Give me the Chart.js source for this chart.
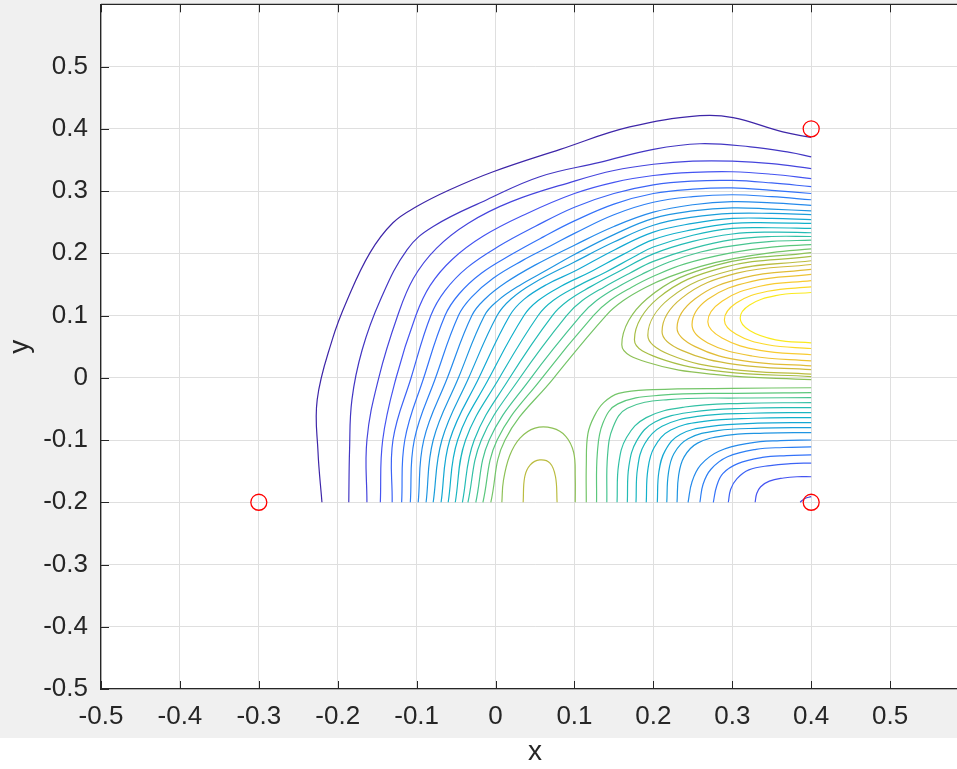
<!DOCTYPE html>
<html>
<head>
<meta charset="utf-8">
<script src="https://cdn.jsdelivr.net/npm/chart.js@4.4.0/dist/chart.umd.min.js"></script>
<style>
html, body { margin: 0; padding: 0; overflow: hidden; background: #ffffff; }
#contenedor { width: 990px; height: 769px; overflow: hidden; }
#chart1 { display: block; margin-top: -5px; }
</style>
</head>
<body>
<div id="contenedor"><canvas id="chart1" width="990" height="774"></canvas></div>
<script>
// Ticks de los ejes
var xTicks = [-0.5, -0.4, -0.3, -0.2, -0.1, 0, 0.1, 0.2, 0.3, 0.4, 0.5];
var xTickLabels = ["-0.5", "-0.4", "-0.3", "-0.2", "-0.1", "0", "0.1", "0.2", "0.3", "0.4", "0.5"];
var yTicks = [-0.5, -0.4, -0.3, -0.2, -0.1, 0, 0.1, 0.2, 0.3, 0.4, 0.5];
var yTickLabels = ["-0.5", "-0.4", "-0.3", "-0.2", "-0.1", "0", "0.1", "0.2", "0.3", "0.4", "0.5"];

// Puntos marcados (circulos rojos)
var puntosX = [-0.3, 0.4, 0.4];
var puntosY = [-0.2, 0.4, -0.2];

// Curvas de nivel que van del borde inferior al borde derecho (parte superior)
var lineasSuperiores = [
    [[-0.220,-0.2],[-0.225,-0.119],[-0.226,-0.035],[-0.207,0.061],[-0.188,0.125],[-0.159,0.201],[-0.130,0.249],[-0.100,0.275],[-0.058,0.302],[-0.003,0.331],[0.082,0.367],[0.170,0.403],[0.259,0.421],[0.301,0.418],[0.364,0.395],[0.400,0.386]],
    [[-0.186,-0.2],[-0.185,-0.116],[-0.182,-0.035],[-0.169,0.045],[-0.146,0.125],[-0.112,0.206],[-0.079,0.243],[-0.011,0.286],[0.056,0.323],[0.132,0.346],[0.200,0.367],[0.259,0.376],[0.323,0.371],[0.373,0.362],[0.400,0.355]],
    [[-0.163,-0.2],[-0.163,-0.1],[-0.148,0],[-0.124,0.1],[-0.104,0.16],[-0.075,0.208],[-0.035,0.248],[0.02,0.283],[0.1,0.316],[0.15,0.333],[0.2,0.343],[0.25,0.348],[0.3,0.348],[0.35,0.344],[0.4,0.336]],
    [[-0.146,-0.2],[-0.143,-0.1],[-0.126,0],[-0.101,0.1],[-0.083,0.148],[-0.055,0.190],[-0.015,0.228],[0.04,0.264],[0.1,0.296],[0.15,0.314],[0.2,0.325],[0.25,0.330],[0.3,0.331],[0.35,0.327],[0.4,0.320]],
    [[-0.131,-0.2],[-0.130,-0.1],[-0.107,0],[-0.082,0.1],[-0.064,0.14],[-0.036,0.177],[0.005,0.212],[0.05,0.243],[0.1,0.274],[0.15,0.296],[0.2,0.310],[0.25,0.316],[0.3,0.317],[0.35,0.313],[0.4,0.307]],
    [[-0.119,-0.2],[-0.115,-0.1],[-0.091,0],[-0.064,0.1],[-0.046,0.135],[-0.018,0.168],[0.02,0.198],[0.06,0.226],[0.1,0.252],[0.15,0.279],[0.2,0.296],[0.25,0.303],[0.3,0.305],[0.35,0.301],[0.4,0.296]],
    [[-0.108,-0.2],[-0.103,-0.1],[-0.076,0],[-0.047,0.1],[-0.030,0.13],[-0.003,0.16],[0.035,0.189],[0.07,0.212],[0.1,0.232],[0.15,0.262],[0.2,0.282],[0.25,0.291],[0.3,0.294],[0.35,0.291],[0.4,0.286]],
    [[-0.098,-0.2],[-0.091,-0.1],[-0.061,0],[-0.030,0.1],[-0.013,0.127],[0.013,0.153],[0.05,0.181],[0.1,0.213],[0.15,0.243],[0.2,0.266],[0.25,0.278],[0.3,0.283],[0.35,0.281],[0.4,0.277]],
    [[-0.088,-0.2],[-0.079,-0.1],[-0.047,0],[-0.014,0.1],[0.003,0.124],[0.03,0.148],[0.065,0.173],[0.1,0.198],[0.15,0.230],[0.2,0.256],[0.25,0.268],[0.3,0.273],[0.35,0.271],[0.4,0.268]],
    [[-0.079,-0.2],[-0.068,-0.1],[-0.034,0],[0.002,0.1],[0.02,0.127],[0.048,0.152],[0.1,0.186],[0.15,0.218],[0.2,0.245],[0.25,0.258],[0.3,0.264],[0.35,0.264],[0.4,0.262]],
    [[-0.069,-0.2],[-0.058,-0.1],[-0.021,0],[0.018,0.1],[0.036,0.126],[0.065,0.150],[0.1,0.171],[0.15,0.205],[0.2,0.234],[0.25,0.248],[0.3,0.256],[0.35,0.256],[0.4,0.254]],
    [[-0.060,-0.2],[-0.048,-0.1],[-0.008,0],[0.036,0.1],[0.054,0.124],[0.083,0.147],[0.12,0.170],[0.16,0.197],[0.2,0.222],[0.25,0.238],[0.3,0.248],[0.35,0.249],[0.4,0.248]],
    [[-0.051,-0.2],[-0.038,-0.1],[0.005,0],[0.054,0.1],[0.073,0.124],[0.102,0.146],[0.14,0.170],[0.175,0.194],[0.2,0.210],[0.25,0.229],[0.3,0.240],[0.35,0.241],[0.4,0.240]],
    [[-0.042,-0.2],[-0.027,-0.1],[0.018,0],[0.072,0.1],[0.092,0.124],[0.12,0.146],[0.155,0.170],[0.2,0.199],[0.25,0.219],[0.3,0.231],[0.35,0.234],[0.4,0.233]],
    [[-0.035,-0.2],[-0.018,-0.1],[0.031,0],[0.090,0.1],[0.110,0.124],[0.138,0.146],[0.17,0.168],[0.2,0.187],[0.25,0.208],[0.3,0.222],[0.35,0.227],[0.4,0.227]],
    [[-0.025,-0.2],[-0.008,-0.1],[0.045,0],[0.108,0.1],[0.128,0.124],[0.155,0.146],[0.185,0.166],[0.22,0.186],[0.26,0.202],[0.3,0.212],[0.35,0.219],[0.4,0.221]],
    [[-0.016,-0.2],[0.002,-0.1],[0.059,0],[0.124,0.1],[0.145,0.124],[0.172,0.145],[0.2,0.163],[0.24,0.183],[0.3,0.201],[0.35,0.210],[0.4,0.214]],
    [[-0.006,-0.2],[0.012,-0.1],[0.074,0],[0.140,0.1],[0.162,0.124],[0.19,0.145],[0.22,0.162],[0.26,0.179],[0.3,0.191],[0.35,0.201],[0.4,0.207]]
];
var nivelesSuperiores = [1, 2, 3, 4, 5, 6, 7, 8, 9, 10, 11, 12, 13, 14, 15, 16, 17, 18];

// Curvas en forma de C alrededor del maximo (amarillo)
var lineasC = [
    [[0.4,0.201],[0.280,0.181],[0.192,0.127],[0.160,0.053],[0.192,0.025],[0.280,0.005],[0.4,-0.003]],
    [[0.4,0.195],[0.288,0.177],[0.206,0.128],[0.176,0.061],[0.206,0.032],[0.288,0.010],[0.4,0.002]],
    [[0.4,0.188],[0.297,0.172],[0.221,0.128],[0.193,0.068],[0.221,0.037],[0.297,0.014],[0.4,0.006]],
    [[0.4,0.182],[0.306,0.168],[0.236,0.128],[0.211,0.074],[0.236,0.044],[0.306,0.021],[0.4,0.013]],
    [[0.4,0.174],[0.315,0.161],[0.253,0.127],[0.230,0.080],[0.253,0.050],[0.315,0.027],[0.4,0.019]],
    [[0.4,0.166],[0.325,0.155],[0.269,0.126],[0.249,0.085],[0.269,0.056],[0.325,0.035],[0.4,0.027]],
    [[0.4,0.156],[0.335,0.147],[0.287,0.123],[0.269,0.090],[0.287,0.064],[0.335,0.044],[0.4,0.037]],
    [[0.4,0.146],[0.345,0.139],[0.305,0.120],[0.290,0.093],[0.305,0.070],[0.345,0.053],[0.4,0.047]],
    [[0.4,0.137],[0.355,0.132],[0.322,0.117],[0.310,0.096],[0.322,0.076],[0.355,0.061],[0.4,0.056]]
];
var nivelesC = [19, 20, 21, 22, 23, 24, 25, 26, 27];

// Lazos alrededor del maximo local de abajo
var lazos = [
    [[0.008,-0.2],[0.010,-0.165],[0.018,-0.125],[0.031,-0.097],[0.050,-0.081],[0.072,-0.081],[0.089,-0.094],[0.099,-0.12],[0.101,-0.16],[0.101,-0.2]],
    [[0.035,-0.2],[0.037,-0.159],[0.044,-0.140],[0.056,-0.132],[0.069,-0.137],[0.076,-0.159],[0.078,-0.2]]
];
var nivelesLazos = [19, 21];

// Curvas de la esquina inferior derecha
var lineasInferiores = [
    [[0.115,-0.2],[0.115,-0.14],[0.117,-0.09],[0.125,-0.062],[0.137,-0.040],[0.156,-0.025],[0.2,-0.019],[0.3,-0.017],[0.4,-0.016]],
    [[0.128,-0.2],[0.129,-0.121],[0.136,-0.073],[0.155,-0.042],[0.210,-0.028],[0.305,-0.025],[0.4,-0.024]],
    [[0.141,-0.2],[0.142,-0.124],[0.149,-0.079],[0.167,-0.049],[0.219,-0.035],[0.309,-0.0325],[0.4,-0.032]],
    [[0.154,-0.2],[0.156,-0.139],[0.166,-0.096],[0.191,-0.064],[0.240,-0.047],[0.314,-0.041],[0.4,-0.040]],
    [[0.167,-0.2],[0.169,-0.142],[0.179,-0.101],[0.202,-0.071],[0.249,-0.055],[0.318,-0.049],[0.4,-0.048]],
    [[0.178,-0.2],[0.180,-0.145],[0.189,-0.106],[0.211,-0.078],[0.256,-0.062],[0.322,-0.057],[0.4,-0.056]],
    [[0.191,-0.2],[0.193,-0.148],[0.201,-0.112],[0.222,-0.084],[0.264,-0.070],[0.327,-0.065],[0.4,-0.064]],
    [[0.205,-0.2],[0.207,-0.151],[0.215,-0.117],[0.234,-0.091],[0.273,-0.078],[0.332,-0.073],[0.4,-0.072]],
    [[0.217,-0.2],[0.219,-0.154],[0.226,-0.122],[0.244,-0.098],[0.281,-0.085],[0.336,-0.081],[0.4,-0.080]],
    [[0.230,-0.2],[0.232,-0.157],[0.239,-0.127],[0.256,-0.105],[0.290,-0.093],[0.341,-0.089],[0.4,-0.088]],
    [[0.244,-0.2],[0.249,-0.167],[0.260,-0.140],[0.283,-0.118],[0.322,-0.105],[0.361,-0.101],[0.4,-0.100]],
    [[0.259,-0.2],[0.263,-0.171],[0.273,-0.147],[0.294,-0.127],[0.330,-0.115],[0.365,-0.112],[0.4,-0.111]],
    [[0.276,-0.2],[0.280,-0.175],[0.288,-0.154],[0.307,-0.138],[0.338,-0.128],[0.369,-0.125],[0.4,-0.124]],
    [[0.295,-0.2],[0.298,-0.179],[0.306,-0.162],[0.321,-0.148],[0.348,-0.141],[0.374,-0.138],[0.4,-0.137]],
    [[0.329,-0.2],[0.331,-0.186],[0.336,-0.175],[0.347,-0.166],[0.365,-0.161],[0.382,-0.159],[0.4,-0.159]],
    [[0.386,-0.2],[0.392,-0.194],[0.4,-0.191]]
];
var nivelesInferiores = [18, 17, 16, 15, 14, 13, 12, 11, 10, 9, 8, 7, 6, 5, 4, 3];

var nivelMax = 28;

// Mapa de colores tipo parula
var parulaAnclas = [[62,38,168],[72,80,240],[48,120,250],[30,150,225],[15,175,205],[40,190,175],[95,200,120],[165,190,70],[220,185,55],[252,205,48],[249,251,20]];

function colorNivel(nivel) {
    var t = (nivel - 1) / (nivelMax - 1);
    var p = t * (parulaAnclas.length - 1);
    var i = Math.min(Math.floor(p), parulaAnclas.length - 2);
    var f = p - i;
    var a = parulaAnclas[i], b = parulaAnclas[i + 1];
    var r = Math.round(a[0] + (b[0] - a[0]) * f);
    var g = Math.round(a[1] + (b[1] - a[1]) * f);
    var bl = Math.round(a[2] + (b[2] - a[2]) * f);
    return "rgb(" + r + "," + g + "," + bl + ")";
}

function linea(puntos, nivel) {
    return {
        data: puntos.map(function (p) { return { x: p[0], y: p[1] }; }),
        borderColor: colorNivel(nivel),
        borderWidth: 1.2,
        pointRadius: 0,
        showLine: true,
        tension: 0.4,
        fill: false,
        order: 2
    };
}

var datasets = [];
datasets.push({
    data: puntosX.map(function (x, i) { return { x: x, y: puntosY[i] }; }),
    showLine: false,
    pointRadius: 8,
    pointBorderColor: "#ff0000",
    pointBackgroundColor: "rgba(0,0,0,0)",
    pointBorderWidth: 1.3,
    order: 0
});
lineasSuperiores.forEach(function (l, i) { datasets.push(linea(l, nivelesSuperiores[i])); });
lineasC.forEach(function (l, i) { datasets.push(linea(l, nivelesC[i])); });
lazos.forEach(function (l, i) { datasets.push(linea(l, nivelesLazos[i])); });
lineasInferiores.forEach(function (l, i) { datasets.push(linea(l, nivelesInferiores[i])); });

// Fondo gris de la figura, marco superior y ticks hacia adentro
var marco = {
    id: "marco",
    beforeDraw: function (chart) {
        var ctx = chart.ctx, a = chart.chartArea;
        ctx.save();
        ctx.fillStyle = "#f0f0f0";
        ctx.fillRect(0, 0, chart.width, 743);
        ctx.fillStyle = "#ffffff";
        ctx.fillRect(a.left, a.top, a.right - a.left, a.bottom - a.top);
        ctx.restore();
    },
    afterDraw: function (chart) {
        var ctx = chart.ctx, a = chart.chartArea;
        var sx = chart.scales.x, sy = chart.scales.y;
        ctx.save();
        ctx.strokeStyle = "#262626";
        ctx.lineWidth = 1.3;
        ctx.beginPath();
        ctx.moveTo(a.left, a.top);
        ctx.lineTo(a.right, a.top);
        ctx.lineTo(a.right, a.bottom);
        ctx.stroke();
        ctx.lineWidth = 1;
        ctx.beginPath();
        xTicks.forEach(function (v) {
            var px = Math.round(sx.getPixelForValue(v)) + 0.5;
            ctx.moveTo(px, a.bottom); ctx.lineTo(px, a.bottom - 8);
            ctx.moveTo(px, a.top); ctx.lineTo(px, a.top + 8);
        });
        yTicks.forEach(function (v) {
            var py = Math.round(sy.getPixelForValue(v)) + 0.5;
            ctx.moveTo(a.left, py); ctx.lineTo(a.left + 8, py);
            ctx.moveTo(a.right, py); ctx.lineTo(a.right - 8, py);
        });
        ctx.stroke();
        ctx.restore();
    }
};

var fuente = "'Liberation Sans', Arial, Helvetica, sans-serif";

var configuracion = {
    type: "scatter",
    data: { datasets: datasets },
    plugins: [marco],
    options: {
        responsive: false,
        devicePixelRatio: 1,
        animation: false,
        events: [],
        layout: { padding: { top: 0, right: 21, bottom: 0, left: 0 } },
        plugins: { legend: { display: false }, tooltip: { enabled: false } },
        scales: {
            x: {
                type: "linear",
                min: -0.5,
                max: 0.6,
                afterBuildTicks: function (s) { s.ticks = xTicks.map(function (v) { return { value: v }; }); },
                afterFit: function (s) { s.height = 80; s.paddingLeft = 0; s.paddingRight = 0; },
                ticks: {
                    callback: function (v, i) { return xTickLabels[i]; },
                    font: { family: fuente, size: 26 },
                    color: "#262626",
                    padding: 12,
                    maxRotation: 0,
                    autoSkip: false
                },
                grid: { color: "#dfdfdf", drawTicks: false },
                border: { color: "#262626", width: 1.3 },
                title: { display: true, text: "x", font: { family: fuente, size: 28 }, color: "#262626", padding: { top: 0, bottom: 0 } }
            },
            y: {
                type: "linear",
                min: -0.5,
                max: 0.6,
                afterBuildTicks: function (s) { s.ticks = yTicks.map(function (v) { return { value: v }; }); },
                afterFit: function (s) { s.width = 101; s.paddingTop = 0; s.paddingBottom = 0; },
                ticks: {
                    callback: function (v, i) { return yTickLabels[i]; },
                    font: { family: fuente, size: 26 },
                    color: "#262626",
                    padding: 13,
                    autoSkip: false
                },
                grid: { color: "#dfdfdf", drawTicks: false },
                border: { color: "#262626", width: 1.3 },
                title: { display: true, text: "y", font: { family: fuente, size: 28, lineHeight: 1 }, color: "#262626", padding: { top: 6, bottom: 0 } }
            }
        }
    }
};

var contexto = document.getElementById("chart1").getContext("2d");
var miGrafico = new Chart(contexto, configuracion);
</script>
</body>
</html>
